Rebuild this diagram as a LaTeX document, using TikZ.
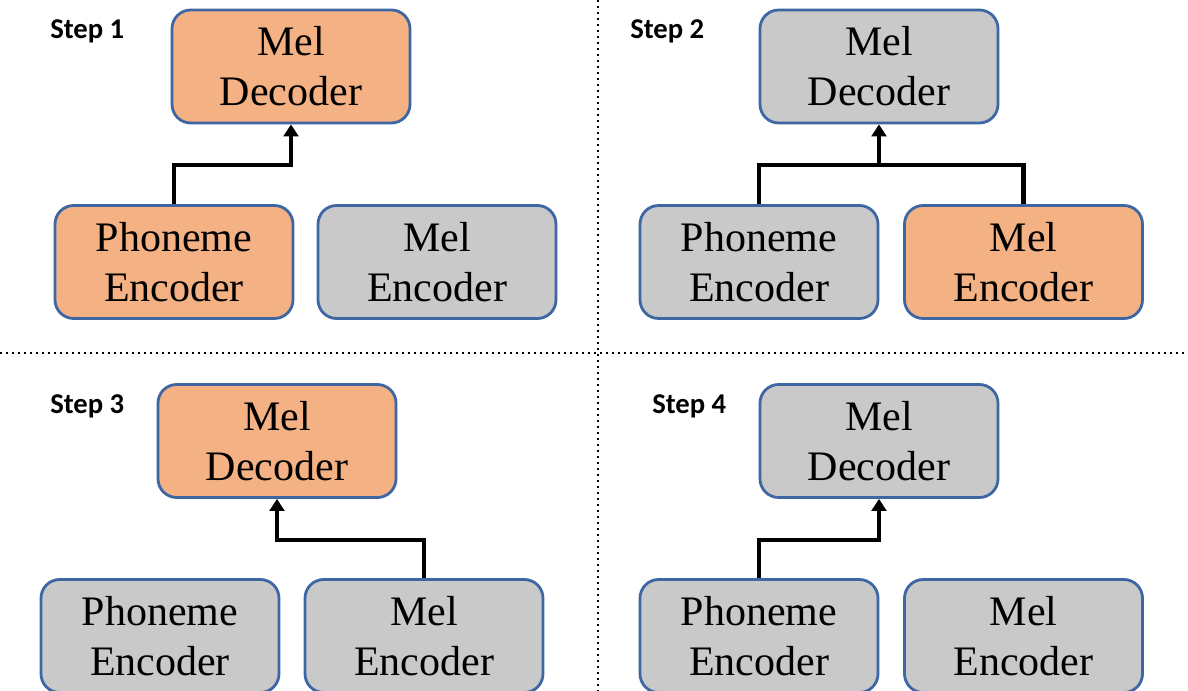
\documentclass[tikz,border=0pt]{standalone}
\usepackage{fontspec}
\setmainfont{Liberation Serif}
\newfontfamily\stepfont{Carlito}
\usepackage{xcolor}
\usetikzlibrary{arrows.meta}

\definecolor{trainorange}{HTML}{F4B183}
\definecolor{frozengray}{HTML}{C9C9C9}
\definecolor{edgeblue}{HTML}{3E66A3}

\tikzset{
  block/.style={draw=edgeblue, line width=2.1pt, rounded corners=14pt,
    minimum width=178.5pt, minimum height=84.75pt, inner sep=0pt,
    align=center, font=\fontsize{31.5}{37.5}\selectfont},
  trained/.style={block, fill=trainorange},
  frozen/.style={block, fill=frozengray},
  feed/.style={line width=3.4pt, line join=miter},
  link/.style={feed, -{Triangle[length=9pt,width=11pt]}},
  steptag/.style={anchor=west, inner sep=0pt, font=\stepfont\bfseries\fontsize{21.5}{26}\selectfont},
  divider/.style={line width=2.2pt, dash pattern=on 1.8pt off 2.7pt}
}

\begin{document}
\begin{tikzpicture}[x=0.75pt,y=0.75pt,yscale=-1,xscale=1]
        \useasboundingbox (0,0) rectangle (1188,691);

        % Dividers
        \draw[divider] (0,353) -- (1188,353);
        \draw[divider] (598,0) -- (598,691);

        % Step 1
        \node[steptag] (tag1) at (50,31) {Step 1};
        \node[trained] (dec1) at (291,66.5) {Mel\\Decoder};
        \node[trained] (pho1) at (174,262) {Phoneme\\Encoder};
        \node[frozen] (mel1) at (437,262) {Mel\\Encoder};
        \coordinate (j1) at (291,165);
        \draw[link] (pho1.north) |- (j1) -- (dec1.south);

        % Step 2
        \node[steptag] (tag2) at (630,31) {Step 2};
        \node[frozen] (dec2) at (879,66.5) {Mel\\Decoder};
        \node[frozen] (pho2) at (759,262) {Phoneme\\Encoder};
        \node[trained] (mel2) at (1023.5,262) {Mel\\Encoder};
        \coordinate (j2) at (879,165);
        \draw[feed] (pho2.north) |- (j2) -| (mel2.north);
        \draw[link] (j2) -- (dec2.south);

        % Step 3
        \node[steptag] (tag3) at (50,406) {Step 3};
        \node[trained] (dec3) at (277,441) {Mel\\Decoder};
        \node[frozen] (pho3) at (160,636) {Phoneme\\Encoder};
        \node[frozen] (mel3) at (424,636) {Mel\\Encoder};
        \coordinate (j3) at (277,540);
        \draw[link] (mel3.north) |- (j3) -- (dec3.south);

        % Step 4
        \node[steptag] (tag4) at (652,406) {Step 4};
        \node[frozen] (dec4) at (879,441) {Mel\\Decoder};
        \node[frozen] (pho4) at (759,636) {Phoneme\\Encoder};
        \node[frozen] (mel4) at (1023.5,636) {Mel\\Encoder};
        \coordinate (j4) at (879,540);
        \draw[link] (pho4.north) |- (j4) -- (dec4.south);

\end{tikzpicture}
\end{document}
